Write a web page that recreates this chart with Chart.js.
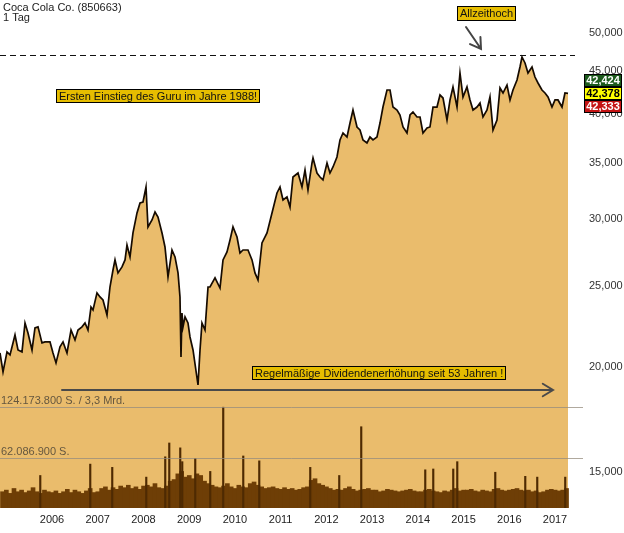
<!DOCTYPE html>
<html>
<head>
<meta charset="utf-8">
<title>Coca Cola Co. (850663)</title>
<script src="https://cdn.jsdelivr.net/npm/chart.js@4/dist/chart.umd.min.js"></script>
<style>
  html, body { margin: 0; padding: 0; background: #fff; }
  #wrap { position: relative; width: 624px; height: 533px; }
</style>
</head>
<body>
<div id="wrap"><canvas id="chart" width="624" height="533"></canvas></div>
<script>
// Coca Cola Co. (850663) - 1 Tag, log price area + volume underlay

// --- Data ---
const priceYears = [
  2004.863, 2004.929, 2005.016, 2005.082, 2005.191, 2005.257, 2005.344, 2005.410, 2005.475, 2005.563,
  2005.628, 2005.694, 2005.781, 2005.847, 2005.956, 2006.022, 2006.088, 2006.175, 2006.241, 2006.328,
  2006.416, 2006.503, 2006.569, 2006.656, 2006.722, 2006.787, 2006.853, 2006.897, 2006.984, 2007.050,
  2007.115, 2007.203, 2007.268, 2007.334, 2007.378, 2007.443, 2007.531, 2007.597, 2007.640, 2007.706,
  2007.771, 2007.859, 2007.925, 2007.990, 2008.056, 2008.099, 2008.187, 2008.253, 2008.318, 2008.406,
  2008.471, 2008.537, 2008.624, 2008.690, 2008.756, 2008.799, 2008.821, 2008.843, 2008.865, 2008.909,
  2008.974, 2009.018, 2009.084, 2009.193, 2009.237, 2009.280, 2009.346, 2009.412, 2009.455, 2009.565,
  2009.674, 2009.740, 2009.827, 2009.893, 2009.958, 2010.046, 2010.111, 2010.177, 2010.286, 2010.374,
  2010.439, 2010.505, 2010.592, 2010.702, 2010.811, 2010.920, 2010.986, 2011.052, 2011.139, 2011.205,
  2011.270, 2011.380, 2011.467, 2011.533, 2011.598, 2011.686, 2011.708, 2011.795, 2011.861, 2011.926,
  2012.014, 2012.079, 2012.145, 2012.232, 2012.298, 2012.364, 2012.451, 2012.517, 2012.582, 2012.670,
  2012.735, 2012.801, 2012.888, 2012.954, 2013.020, 2013.107, 2013.173, 2013.238, 2013.326, 2013.392,
  2013.457, 2013.545, 2013.610, 2013.676, 2013.763, 2013.829, 2013.894, 2013.982, 2014.048, 2014.113,
  2014.201, 2014.266, 2014.332, 2014.419, 2014.485, 2014.551, 2014.638, 2014.704, 2014.769, 2014.857,
  2014.922, 2014.988, 2015.075, 2015.141, 2015.207, 2015.294, 2015.360, 2015.425, 2015.513, 2015.578,
  2015.644, 2015.731, 2015.797, 2015.863, 2015.950, 2016.016, 2016.081, 2016.169, 2016.234, 2016.278,
  2016.344, 2016.409, 2016.497, 2016.562, 2016.628, 2016.715, 2016.781, 2016.847, 2016.934, 2017.000,
  2017.065, 2017.153, 2017.218, 2017.284
];
const priceValues = [
  20810, 19760, 20870, 20700, 21860, 20980, 20870, 22590, 21980, 20980,
  22290, 22350, 21390, 21450, 21450, 20810, 20250, 21160, 21450, 20810,
  22160, 21570, 22160, 22350, 22590, 22160, 23600, 23410, 24530, 24260,
  24060, 23090, 24930, 26120, 26850, 25910, 26340, 26850, 27970, 27070,
  28910, 30540, 31390, 31470, 32790, 29390, 29960, 30620, 30200, 28910,
  27820, 25630, 27590, 27070, 25910, 24260, 20580, 23220, 22350, 22970,
  22590, 21740, 20980, 19060, 20980, 22590, 22160, 24930, 24930, 25560,
  24860, 26850, 27440, 28360, 29390, 28590, 27370, 27590, 27590, 26850,
  25910, 25420, 28130, 28910, 30540, 32260, 32790, 31640, 31910, 31040,
  33700, 34070, 32790, 34350, 32520, 35020, 35500, 34070, 33700, 33430,
  35020, 34070, 34640, 35600, 37300, 38020, 37600, 39070, 40490, 38650,
  38330, 37300, 36990, 37600, 37300, 37600, 39070, 40820, 42770, 42770,
  40820, 40490, 39940, 38650, 38020, 39940, 40270, 39720, 39720, 38020,
  38540, 38650, 40820, 40820, 42190, 41840, 39400, 41620, 43130, 40820,
  44810, 41960, 43130, 41620, 40490, 40820, 41270, 39720, 40490, 41960,
  38330, 39400, 43010, 42420, 43360, 41620, 42770, 43960, 45550, 46820,
  46060, 44810, 45550, 44320, 43600, 42770, 42420, 41960, 40820, 41620,
  41620, 40820, 42420, 42378
];

// monthly volume in millions of shares, first bar = Nov 2004
const volumeStartYear = 2004.875;
const volumeMonthly = [
  20, 22,
  18, 24, 20, 22, 19, 21, 25, 20, 18, 22, 20, 19,
  21, 18, 20, 23, 19, 22, 20, 18, 21, 24, 19, 20,
  24, 26, 22, 25, 23, 27, 25, 28, 24, 26, 23, 27,
  28, 26, 30, 25, 24, 27, 33, 35, 42, 45, 38, 40,
  36, 42, 40, 33, 30, 28, 26, 25, 27, 30, 26, 24,
  28, 26, 25, 30, 32, 28, 26, 24, 25, 26, 24, 23,
  25, 23, 24, 22, 23, 25, 26, 34, 36, 30, 28, 26,
  24, 22, 23, 22, 24, 26, 23, 21, 22, 23, 24, 22,
  22, 20, 21, 23, 22, 21, 20, 21, 22, 23, 21, 20,
  20, 22, 23, 21, 20, 19, 21, 20, 22, 24, 21, 22,
  22, 23, 21, 20, 22, 21, 20, 23, 24, 22, 21, 22,
  23, 24, 22, 21, 22, 20, 21, 19, 20, 22, 23, 22,
  21, 22, 24
];
// single-day volume spikes (millions)
const spikeYears = [
  2005.760, 2006.853, 2007.334, 2008.078, 2008.493, 2008.581, 2008.821, 2008.865,
  2009.149, 2009.477, 2009.761, 2010.199, 2010.549, 2011.664, 2012.298, 2012.779,
  2014.179, 2014.354, 2014.791, 2014.879, 2015.710, 2016.366, 2016.628, 2017.240
];
const spikeValues = [
  40, 54, 50, 38, 63, 80, 74, 57,
  61, 45, 124, 64, 58, 50, 40, 100,
  47, 48, 48, 57, 44, 39, 38, 38
];

const yearTicks = [2006, 2007, 2008, 2009, 2010, 2011, 2012, 2013, 2014, 2015, 2016, 2017];
const priceTicks = [15000, 20000, 25000, 30000, 35000, 40000, 45000, 50000];
const lastQuotes = [42424, 42378, 42333];          // high / last / low
const athValue = 47075;                           // Allzeithoch line
const volumeRefValues = [124.1738, 62.0869];
const volumeRefLabels = ['124.173.800 S. / 3,3 Mrd.', '62.086.900 S.'];

// --- Helpers ---
const FONT = "'Liberation Sans', Arial, Helvetica, sans-serif";
const ctx0 = document.getElementById('chart').getContext('2d');

let fillGrad, volGrad, gradKey;
function grads(chart) {
  const a = chart.chartArea;
  const key = a.top + '_' + a.bottom;
  if (key !== gradKey) {
    gradKey = key;
    fillGrad = chart.ctx.createLinearGradient(0, a.top, 0, a.bottom);
    fillGrad.addColorStop(0, '#efc77f');
    fillGrad.addColorStop(1, '#e6b35f');
    volGrad = chart.ctx.createLinearGradient(0, a.bottom, 0, a.bottom - 40);
    volGrad.addColorStop(0, '#5a3000');
    volGrad.addColorStop(0.35, '#693a04');
    volGrad.addColorStop(1, '#9a6a22');
  }
}

function yellowBox(ctx, text, x, y, h) {
  ctx.font = '11px ' + FONT;
  const w = Math.round(ctx.measureText(text).width) + 6;
  ctx.fillStyle = '#e6bd00';
  ctx.fillRect(x, y, w, h);
  ctx.strokeStyle = '#000';
  ctx.lineWidth = 1;
  ctx.strokeRect(x + 0.5, y + 0.5, w - 1, h - 1);
  ctx.fillStyle = '#111';
  ctx.textAlign = 'left';
  ctx.textBaseline = 'middle';
  ctx.fillText(text, x + 3, y + h / 2 + 0.5);
}

function arrow(ctx, x1, y1, x2, y2, color) {
  const ang = Math.atan2(y2 - y1, x2 - x1);
  const len = 12, spread = 0.55;
  ctx.strokeStyle = color;
  ctx.lineWidth = 2;
  ctx.lineCap = 'round';
  ctx.beginPath();
  ctx.moveTo(x1, y1);
  ctx.lineTo(x2, y2);
  ctx.moveTo(x2 - len * Math.cos(ang - spread), y2 - len * Math.sin(ang - spread));
  ctx.lineTo(x2, y2);
  ctx.lineTo(x2 - len * Math.cos(ang + spread), y2 - len * Math.sin(ang + spread));
  ctx.stroke();
}

// --- Overlay: reference lines, annotations, quote tags, title ---
const overlay = {
  id: 'overlay',
  beforeDatasetsDraw(chart) { grads(chart); },
  afterDatasetsDraw(chart) {
    const { ctx, chartArea: a, scales } = chart;
    ctx.save();
    // volume reference lines
    volumeRefValues.forEach((v, i) => {
      const y = Math.round(scales.yVol.getPixelForValue(v)) + 0.5;
      ctx.strokeStyle = 'rgba(150,140,125,0.75)';
      ctx.lineWidth = 1;
      ctx.beginPath();
      ctx.moveTo(a.left, y);
      ctx.lineTo(a.right + 14, y);
      ctx.stroke();
      ctx.font = '11px ' + FONT;
      ctx.fillStyle = '#65573f';
      ctx.textAlign = 'left';
      ctx.textBaseline = 'bottom';
      ctx.fillText(volumeRefLabels[i], a.left + 1, y - 1);
    });
    // all-time-high dashed line
    const yAth = Math.round(scales.y.getPixelForValue(athValue)) + 0.5;
    ctx.strokeStyle = '#111';
    ctx.lineWidth = 1;
    ctx.setLineDash([6, 4]);
    ctx.beginPath();
    ctx.moveTo(a.left, yAth);
    ctx.lineTo(a.right + 6, yAth);
    ctx.stroke();
    ctx.setLineDash([]);

    // annotations
    arrow(ctx, 466, 27, 481, 49, '#444');
    yellowBox(ctx, 'Allzeithoch', 457, 6, 15);
    yellowBox(ctx, 'Ersten Einstieg des Guru im Jahre 1988!', 56, 89, 14);
    arrow(ctx, 62, 390, 553, 390, '#4a4a4a');
    yellowBox(ctx, 'Regelmäßige Dividendenerhöhung seit 53 Jahren !', 252, 366, 14);
    ctx.restore();
  },
  afterDraw(chart) {
    const { ctx, chartArea: a, scales } = chart;
    ctx.save();
    // last quote tags on the price axis
    const yc = scales.y.getPixelForValue(lastQuotes[1]);
    const tags = [
      { v: lastQuotes[0], bg: '#1c5a1c', fg: '#fff', y: yc - 19.5 },
      { v: lastQuotes[1], bg: '#ffff00', fg: '#000', y: yc - 6.5 },
      { v: lastQuotes[2], bg: '#c41414', fg: '#fff', y: yc + 6.5 }
    ];
    tags.forEach(t => {
      const x = a.right + 15, w = 38, h = 13;
      ctx.fillStyle = t.bg;
      ctx.fillRect(x, Math.round(t.y), w, h);
      ctx.strokeStyle = '#000';
      ctx.lineWidth = 1;
      ctx.strokeRect(x + 0.5, Math.round(t.y) + 0.5, w - 1, h - 1);
      ctx.fillStyle = t.fg;
      ctx.font = 'bold 11px ' + FONT;
      ctx.textAlign = 'center';
      ctx.textBaseline = 'middle';
      ctx.fillText(t.v.toLocaleString('en-US'), x + w / 2, Math.round(t.y) + h / 2 + 0.5);
    });
    // title
    ctx.font = '11px ' + FONT;
    ctx.fillStyle = '#222';
    ctx.textAlign = 'left';
    ctx.textBaseline = 'top';
    ctx.fillText('Coca Cola Co. (850663)', 3, 2);
    ctx.fillText('1 Tag', 3, 12);
    ctx.restore();
  }
};

// --- Chart ---
const xMin = 2004.863, xMax = 2017.306;

new Chart(ctx0, {
  type: 'line',
  data: {
    datasets: [
      {
        type: 'bar',
        label: 'Volumen Spitzen',
        data: spikeYears.map((x, i) => ({ x, y: spikeValues[i] })),
        yAxisID: 'yVol',
        backgroundColor: '#4e2a02',
        barThickness: 1.5,
        order: 0
      },
      {
        type: 'bar',
        label: 'Volumen',
        data: volumeMonthly.map((v, i) => ({ x: volumeStartYear + i / 12, y: v })),
        yAxisID: 'yVol',
        backgroundColor: () => volGrad || '#6e3e06',
        barThickness: 4,
        order: 1
      },
      {
        type: 'line',
        label: 'Kurs',
        data: priceYears.map((x, i) => ({ x, y: priceValues[i] })),
        yAxisID: 'y',
        borderColor: '#160b00',
        borderWidth: 1.7,
        pointRadius: 0,
        tension: 0,
        fill: 'start',
        backgroundColor: () => fillGrad || '#eabc6c',
        order: 2
      }
    ]
  },
  options: {
    responsive: false,
    animation: false,
    devicePixelRatio: 1,
    layout: { padding: 0 },
    plugins: { legend: { display: false }, tooltip: { enabled: false } },
    scales: {
      x: {
        type: 'linear',
        min: xMin,
        max: xMax,
        offset: false,
        grid: { display: false, drawTicks: false },
        border: { display: false },
        afterBuildTicks: s => { s.ticks = yearTicks.map(v => ({ value: v })); },
        afterFit: s => { s.height = 25; s.paddingLeft = 0; s.paddingRight = 0; },
        ticks: {
          autoSkip: false,
          maxRotation: 0,
          padding: 5,
          color: '#222',
          font: { family: FONT, size: 11 },
          callback: v => String(v)
        }
      },
      y: {
        type: 'logarithmic',
        position: 'right',
        min: 13607,
        max: 54732,
        bounds: 'data',
        grid: { display: false, drawTicks: false },
        border: { display: false },
        afterBuildTicks: s => { s.ticks = priceTicks.map(v => ({ value: v })); },
        afterFit: s => { s.width = 55; s.paddingTop = 0; s.paddingBottom = 0; },
        ticks: {
          padding: 20,
          color: '#333',
          font: { family: FONT, size: 11 },
          callback: v => Number(v).toLocaleString('en-US')
        }
      },
      yVol: {
        type: 'linear',
        display: false,
        min: 0,
        max: 625
      }
    }
  },
  plugins: [overlay]
});
</script>
</body>
</html>
